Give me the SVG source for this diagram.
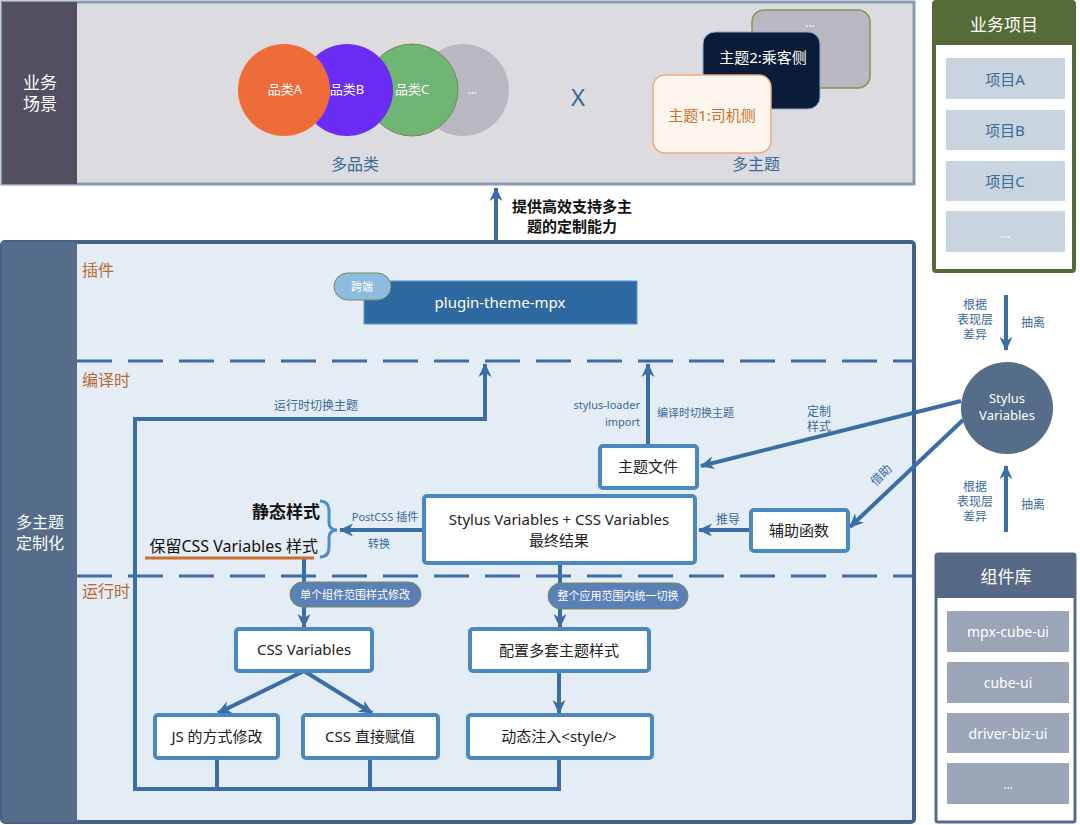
<svg xmlns="http://www.w3.org/2000/svg" width="1080" height="825" viewBox="0 0 1080 825">
<defs>
<style>
text{font-family:"Noto Sans","Noto Sans CJK SC",sans-serif;}
.w{fill:#ffffff}
.bl{fill:#3a6a9a}
.br{fill:#b86a30}
.dk{fill:#222222}
.box{fill:#ffffff;stroke:#4a88c0;stroke-width:4}
.ln{stroke:#3a6ea5;stroke-width:4;fill:none}
.dash{stroke:#3a6ea5;stroke-width:3;stroke-dasharray:35 16;fill:none}
.item1{fill:#c8d4df}
.item2{fill:#9aa6b8}
</style>
<marker id="ah" markerWidth="16" markerHeight="16" refX="13" refY="7" orient="auto" markerUnits="userSpaceOnUse"><path d="M0,0.5 L14,7 L0,13.5 L4,7 z" fill="#3a6ea5"/></marker>
</defs>

<!-- top panel -->
<g id="scene">
<rect x="2" y="2" width="912" height="182" fill="#dcdce0" stroke="#8a9ab0" stroke-width="3"/>
<rect x="2" y="2" width="75" height="182" fill="#524f60"/>
<text x="40" y="89" class="w" font-size="17" text-anchor="middle">业务</text>
<text x="40" y="110" class="w" font-size="17" text-anchor="middle">场景</text>
</g>
<g id="categories">
<circle cx="463" cy="90" r="46" fill="#b9b8c2"/>
<text x="472" y="94" class="w" font-size="12" text-anchor="middle">...</text>
<circle cx="412" cy="90" r="46" fill="#6fb573" stroke="#7a8a50" stroke-width="1"/>
<text x="412" y="94" class="w" font-size="13" text-anchor="middle">品类C</text>
<circle cx="347" cy="90" r="46" fill="#6a2cf6"/>
<text x="347" y="94" class="w" font-size="13" text-anchor="middle">品类B</text>
<circle cx="284" cy="90" r="46" fill="#ef6c3a"/>
<text x="285" y="94" class="w" font-size="13" text-anchor="middle">品类A</text>
<text x="355" y="170" class="bl" font-size="16" text-anchor="middle">多品类</text>
</g>
<g id="cross"><text x="578" y="106" class="bl" font-size="24" text-anchor="middle">X</text></g>
<g id="themes">
<rect x="752" y="10" width="118" height="78" rx="12" fill="#b9b8c2" stroke="#7a9a50" stroke-width="1.5"/>
<text x="810" y="27" class="w" font-size="12" text-anchor="middle">...</text>
<rect x="703" y="32" width="117" height="77" rx="12" fill="#0a1c38" stroke="#8aaad0" stroke-width="1"/>
<text x="763" y="63" class="w" font-size="15" text-anchor="middle">主题2:乘客侧</text>
<rect x="653" y="75" width="118" height="78" rx="12" fill="#fdf5ee" stroke="#f0a880" stroke-width="1.5"/>
<text x="712" y="121" fill="#d07030" font-size="15" text-anchor="middle">主题1:司机侧</text>
<text x="756" y="170" class="bl" font-size="16" text-anchor="middle">多主题</text>
</g>

<!-- right top box -->
<g id="projects">
<rect x="934" y="2" width="140" height="269" rx="2" fill="#ffffff" stroke="#556b35" stroke-width="4"/>
<rect x="934" y="2" width="140" height="43" fill="#556b35"/>
<text x="1004" y="31" class="w" font-size="17" text-anchor="middle">业务项目</text>
<rect x="946" y="58" width="119" height="41" class="item1"/>
<text x="1005" y="85" class="bl" font-size="15" text-anchor="middle">项目A</text>
<rect x="946" y="110" width="119" height="40" class="item1"/>
<text x="1005" y="136" class="bl" font-size="15" text-anchor="middle">项目B</text>
<rect x="946" y="161" width="119" height="40" class="item1"/>
<text x="1005" y="187" class="bl" font-size="15" text-anchor="middle">项目C</text>
<rect x="946" y="211" width="119" height="41" class="item1"/>
<text x="1005" y="238" class="w" font-size="13" text-anchor="middle">...</text>
</g>

<g id="stylusvars">
<circle cx="1007" cy="408" r="46" fill="#566d8a"/>
<text x="1007" y="403" class="w" font-size="13" text-anchor="middle">Stylus</text>
<text x="1007" y="420" class="w" font-size="13" text-anchor="middle">Variables</text>
</g>

<g id="components">
<rect x="936" y="554" width="139" height="268" rx="2" fill="#ffffff" stroke="#566a85" stroke-width="3"/>
<rect x="936" y="554" width="139" height="44" fill="#566a85"/>
<text x="1006" y="583" class="w" font-size="17" text-anchor="middle">组件库</text>
<rect x="947" y="611" width="122" height="41" class="item2"/>
<text x="1008" y="637" class="w" font-size="14" text-anchor="middle">mpx-cube-ui</text>
<rect x="947" y="662" width="122" height="41" class="item2"/>
<text x="1008" y="688" class="w" font-size="14" text-anchor="middle">cube-ui</text>
<rect x="947" y="713" width="122" height="40" class="item2"/>
<text x="1008" y="739" class="w" font-size="14" text-anchor="middle">driver-biz-ui</text>
<rect x="947" y="763" width="122" height="41" class="item2"/>
<text x="1008" y="789" class="w" font-size="12" text-anchor="middle">...</text>
</g>

<!-- main panel -->
<g id="custom">
<rect x="2" y="242" width="912" height="580" rx="3" fill="#e4ecf6" stroke="#44618a" stroke-width="4"/>
<rect x="2" y="242" width="75" height="580" fill="#566d8a"/>
<text x="40" y="528" class="w" font-size="16" text-anchor="middle">多主题</text>
<text x="40" y="549" class="w" font-size="16" text-anchor="middle">定制化</text>
<line x1="77" y1="361" x2="914" y2="361" class="dash"/>
<line x1="77" y1="576" x2="914" y2="576" class="dash"/>
<text x="82" y="276" class="br" font-size="16">插件</text>
<text x="82" y="386" class="br" font-size="16">编译时</text>
<text x="82" y="597" class="br" font-size="16">运行时</text>
</g>

<g id="plugin">
<rect x="364" y="281" width="273" height="43" fill="#2d68a0" stroke="#5a96d0" stroke-width="1"/>
<text x="500" y="308" class="w" font-size="15" text-anchor="middle">plugin-theme-mpx</text>
<rect x="334" y="273" width="57" height="27" rx="13.5" fill="#8ebbe0" stroke="#7a8a50" stroke-width="1"/>
<text x="362" y="291" class="w" font-size="11" text-anchor="middle">跨端</text>
</g>

<!-- connectors -->
<g id="connectors">
<line x1="1006" y1="295" x2="1006" y2="350" class="ln" marker-end="url(#ah)"/>
<line x1="1006" y1="532" x2="1006" y2="466" class="ln" marker-end="url(#ah)"/>
<line x1="496" y1="240" x2="496" y2="188" class="ln" stroke-width="3.5" marker-end="url(#ah)"/>
<polyline points="559,758 559,789 135,789 135,419 485,419 485,364" class="ln" marker-end="url(#ah)"/>
<line x1="217" y1="758" x2="217" y2="789" class="ln"/>
<line x1="370" y1="758" x2="370" y2="789" class="ln"/>
<line x1="648" y1="446" x2="648" y2="364" class="ln" marker-end="url(#ah)"/>
<line x1="961" y1="401" x2="701" y2="466" class="ln" marker-end="url(#ah)"/>
<line x1="963" y1="420" x2="850" y2="527" class="ln" marker-end="url(#ah)"/>
<line x1="751" y1="530" x2="699" y2="530" class="ln" marker-end="url(#ah)"/>
<line x1="424" y1="530" x2="340" y2="530" class="ln" marker-end="url(#ah)"/>
<line x1="304" y1="558" x2="304" y2="627" class="ln" marker-end="url(#ah)"/>
<line x1="560" y1="563" x2="560" y2="627" class="ln" marker-end="url(#ah)"/>
<line x1="304" y1="671" x2="218" y2="713" class="ln" marker-end="url(#ah)"/>
<line x1="304" y1="671" x2="372" y2="713" class="ln" marker-end="url(#ah)"/>
<line x1="559" y1="671" x2="559" y2="713" class="ln" marker-end="url(#ah)"/>
<path d="M320,501 Q329,501 329,511 L329,522 Q329,530 337,530 Q329,530 329,538 L329,547 Q329,557 320,557" fill="none" stroke="#4a90d0" stroke-width="3"/>
<line x1="145" y1="558" x2="314" y2="558" stroke="#c87030" stroke-width="3"/>
</g>

<g id="labels">
<text x="975" y="309" class="bl" font-size="12" text-anchor="middle">根据</text>
<text x="975" y="324" class="bl" font-size="12" text-anchor="middle">表现层</text>
<text x="975" y="339" class="bl" font-size="12" text-anchor="middle">差异</text>
<text x="1033" y="327" class="bl" font-size="12" text-anchor="middle">抽离</text>
<text x="975" y="491" class="bl" font-size="12" text-anchor="middle">根据</text>
<text x="975" y="506" class="bl" font-size="12" text-anchor="middle">表现层</text>
<text x="975" y="521" class="bl" font-size="12" text-anchor="middle">差异</text>
<text x="1033" y="509" class="bl" font-size="12" text-anchor="middle">抽离</text>
<text x="572" y="212" fill="#111111" font-size="15" font-weight="bold" text-anchor="middle">提供高效支持多主</text>
<text x="572" y="232" fill="#111111" font-size="15" font-weight="bold" text-anchor="middle">题的定制能力</text>
<text x="316" y="410" class="bl" font-size="12" text-anchor="middle">运行时切换主题</text>
<text x="640" y="409" class="bl" font-size="11" text-anchor="end">stylus-loader</text>
<text x="640" y="426" class="bl" font-size="11" text-anchor="end">import</text>
<text x="657" y="417" class="bl" font-size="11">编译时切换主题</text>
<text x="819" y="416" class="bl" font-size="12" text-anchor="middle">定制</text>
<text x="819" y="431" class="bl" font-size="12" text-anchor="middle">样式</text>
<text x="0" y="0" class="bl" font-size="12" text-anchor="middle" transform="translate(884,478) rotate(-45)">借助</text>
<text x="728" y="524" class="bl" font-size="12" text-anchor="middle">推导</text>
<text x="385" y="521" class="bl" font-size="11" text-anchor="middle">PostCSS 插件</text>
<text x="379" y="548" class="bl" font-size="11" text-anchor="middle">转换</text>
<text x="320" y="518" fill="#111111" font-size="17" font-weight="bold" text-anchor="end">静态样式</text>
<text x="318" y="552" fill="#111111" font-size="16" text-anchor="end">保留CSS Variables 样式</text>
</g>

<g id="pill1">
<rect x="290" y="582" width="131" height="25" rx="12.5" fill="#5a80b8" stroke="#7a8a50" stroke-width="1"/>
<text x="355" y="599" class="w" font-size="11" text-anchor="middle">单个组件范围样式修改</text>
</g>
<g id="pill2">
<rect x="548" y="583" width="140" height="26" rx="13" fill="#5a80b8" stroke="#7a8a50" stroke-width="1"/>
<text x="618" y="600" class="w" font-size="11" text-anchor="middle">整个应用范围内统一切换</text>
</g>

<g id="themefile"><rect x="600" y="446" width="97" height="42" rx="3" class="box"/><text x="648" y="472" class="dk" font-size="15" text-anchor="middle">主题文件</text></g>
<g id="result"><rect x="424" y="496" width="271" height="67" rx="3" class="box"/><text x="559" y="525" class="dk" font-size="15" text-anchor="middle">Stylus Variables + CSS Variables</text><text x="559" y="546" class="dk" font-size="15" text-anchor="middle">最终结果</text></g>
<g id="helper"><rect x="751" y="510" width="97" height="41" rx="3" class="box"/><text x="799" y="536" class="dk" font-size="15" text-anchor="middle">辅助函数</text></g>
<g id="cssvars"><rect x="236" y="629" width="136" height="42" rx="3" class="box"/><text x="304" y="655" class="dk" font-size="15" text-anchor="middle">CSS Variables</text></g>
<g id="jsmod"><rect x="155" y="715" width="123" height="43" rx="3" class="box"/><text x="217" y="742" class="dk" font-size="15" text-anchor="middle">JS 的方式修改</text></g>
<g id="cssassign"><rect x="303" y="715" width="135" height="43" rx="3" class="box"/><text x="370" y="742" class="dk" font-size="15" text-anchor="middle">CSS 直接赋值</text></g>
<g id="config"><rect x="470" y="629" width="179" height="42" rx="3" class="box"/><text x="559" y="656" class="dk" font-size="15" text-anchor="middle">配置多套主题样式</text></g>
<g id="inject"><rect x="468" y="715" width="184" height="43" rx="3" class="box"/><text x="559" y="742" class="dk" font-size="15" text-anchor="middle">动态注入&lt;style/&gt;</text></g>
</svg>
